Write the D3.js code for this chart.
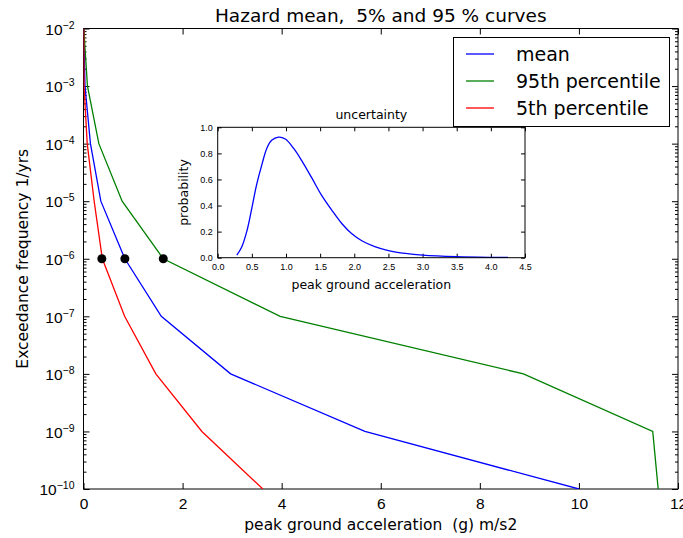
<!DOCTYPE html>
<html>
<head>
<meta charset="utf-8">
<script src="https://cdn.jsdelivr.net/npm/d3@7"></script>
<style>
  body { margin: 0; background: #fff; }
  svg { font-family: "DejaVu Sans", sans-serif; }
</style>
</head>
<body>
<div id="chart"></div>
<script>
// hazard curves: exceedance frequency per decade and the pga reaching it
const freq = [1e-2, 1e-3, 1e-4, 1e-5, 1e-6, 1e-7, 1e-8, 1e-9, 1e-10];
const meanPga = [0.005, 0.03, 0.14, 0.35, 0.835, 1.57, 2.97, 5.68, 10.0];
const p95Pga = [0.005, 0.08, 0.31, 0.78, 1.61, 3.97, 8.88, 11.49, 11.6];
const p5Pga = [0.005, 0.01, 0.075, 0.215, 0.38, 0.83, 1.46, 2.39, 3.62];

// 1e-6 intercepts
const markPga = [0.37, 0.835, 1.61];
const markFreq = 1e-6;

// inset: uncertainty density
const pdfX = [0.28, 0.35, 0.43, 0.50, 0.57, 0.65, 0.72, 0.79, 0.89, 0.99, 1.11, 1.23, 1.38, 1.52, 1.67, 1.82, 1.96, 2.11, 2.30, 2.50, 2.75, 3.00, 3.50, 4.00, 4.25];
const pdfY = [0.02, 0.08, 0.21, 0.38, 0.56, 0.72, 0.84, 0.90, 0.925, 0.91, 0.84, 0.745, 0.61, 0.48, 0.365, 0.26, 0.185, 0.13, 0.085, 0.055, 0.033, 0.02, 0.008, 0.003, 0.002];

const xTicks = [0, 2, 4, 6, 8, 10, 12];
const yTicks = [1e-10, 1e-9, 1e-8, 1e-7, 1e-6, 1e-5, 1e-4, 1e-3, 1e-2];
const insetXTicks = [0, 0.5, 1, 1.5, 2, 2.5, 3, 3.5, 4, 4.5];
const insetYTicks = [0, 0.2, 0.4, 0.6, 0.8, 1.0];

const series = [
  { name: 'mean', color: '#0000ff', pga: meanPga },
  { name: '95th percentile', color: '#008000', pga: p95Pga },
  { name: '5th percentile', color: '#ff0000', pga: p5Pga },
];

const W = 683, H = 538;
const box = { left: 83.5, right: 678, top: 28.5, bottom: 489 };

const svg = d3.select('#chart').append('svg')
  .attr('width', W).attr('height', H);

const x = d3.scaleLinear().domain([0, 12]).range([box.left, box.right]);
const y = d3.scaleLog().domain([1e-10, 1e-2]).range([box.bottom, box.top]);

svg.append('defs').append('clipPath').attr('id', 'clip')
  .append('rect')
  .attr('x', box.left).attr('y', box.top)
  .attr('width', box.right - box.left).attr('height', box.bottom - box.top);

// minor log ticks 2..9 in each decade
const minor = [];
yTicks.slice(0, -1).forEach(d => { for (let k = 2; k < 10; k++) minor.push(d * k); });

function styleAxis(g, size) {
  g.select('.domain').remove();
  g.selectAll('line').attr('stroke', '#000');
  g.selectAll('text').attr('fill', '#000').style('font-size', size);
}

svg.append('g')
  .attr('transform', `translate(0,${box.bottom})`)
  .call(d3.axisBottom(x).tickValues(xTicks).tickSizeInner(-6).tickSizeOuter(0).tickPadding(9).tickFormat(d3.format('d')))
  .call(g => styleAxis(g, '15.5px'));

svg.append('g')
  .attr('transform', `translate(0,${box.top})`)
  .call(d3.axisTop(x).tickValues(xTicks).tickSizeInner(-6).tickSizeOuter(0).tickFormat(''))
  .call(g => styleAxis(g, '0px'));

svg.append('g')
  .attr('transform', `translate(${box.left},0)`)
  .call(d3.axisLeft(y).tickValues(minor).tickSizeInner(-3).tickSizeOuter(0).tickFormat(''))
  .call(g => styleAxis(g, '0px'));

svg.append('g')
  .attr('transform', `translate(${box.right},0)`)
  .call(d3.axisRight(y).tickValues(minor).tickSizeInner(-3).tickSizeOuter(0).tickFormat(''))
  .call(g => styleAxis(g, '0px'));

svg.append('g')
  .attr('transform', `translate(${box.right},0)`)
  .call(d3.axisRight(y).tickValues(yTicks).tickSizeInner(-6).tickSizeOuter(0).tickFormat(''))
  .call(g => styleAxis(g, '0px'));

const yAxis = svg.append('g')
  .attr('transform', `translate(${box.left},0)`)
  .call(d3.axisLeft(y).tickValues(yTicks).tickSizeInner(-6).tickSizeOuter(0).tickPadding(9))
  .call(g => styleAxis(g, '15.5px'));

yAxis.selectAll('.tick text').each(function (d) {
  const t = d3.select(this).text('').attr('dy', '0.37em');
  t.append('tspan').text('10');
  t.append('tspan').attr('dy', -6).style('font-size', '10.5px')
    .text('\u2212' + Math.round(-Math.log10(d)));
});

svg.append('rect')
  .attr('x', box.left).attr('y', box.top)
  .attr('width', box.right - box.left).attr('height', box.bottom - box.top)
  .attr('fill', 'none').attr('stroke', '#000').attr('stroke-width', 1);

const line = d3.line()
  .x(d => x(d.x))
  .y(d => y(d.y));

svg.append('g').attr('clip-path', 'url(#clip)')
  .selectAll('path')
  .data(series)
  .join('path')
  .attr('d', s => line(s.pga.map((p, i) => ({ x: p, y: freq[i] }))))
  .attr('fill', 'none')
  .attr('stroke', s => s.color)
  .attr('stroke-width', 1.3);

svg.append('g')
  .selectAll('circle')
  .data(markPga)
  .join('circle')
  .attr('cx', d => x(d))
  .attr('cy', y(markFreq))
  .attr('r', 4.5)
  .attr('fill', '#000');

svg.append('text')
  .attr('x', (box.left + box.right) / 2).attr('y', 22)
  .attr('text-anchor', 'middle').style('font-size', '18.5px')
  .style('white-space', 'pre')
  .text('Hazard mean,  5% and 95 % curves');

svg.append('text')
  .attr('x', (box.left + box.right) / 2).attr('y', 530)
  .attr('text-anchor', 'middle').style('font-size', '15.5px')
  .style('white-space', 'pre')
  .text('peak ground acceleration  (g) m/s2');

svg.append('text')
  .attr('transform', `translate(28,${(box.top + box.bottom) / 2}) rotate(-90)`)
  .attr('text-anchor', 'middle').style('font-size', '15.5px')
  .text('Exceedance frequency 1/yrs');

// legend
const legend = svg.append('g');
legend.append('rect')
  .attr('x', 453.5).attr('y', 37.5).attr('width', 216).attr('height', 89)
  .attr('fill', '#fff').attr('stroke', '#000').attr('stroke-width', 1);

series.forEach((s, i) => {
  const ly = 54 + i * 27;
  legend.append('line')
    .attr('x1', 466).attr('x2', 494).attr('y1', ly).attr('y2', ly)
    .attr('stroke', s.color).attr('stroke-width', 1.3);
  legend.append('text')
    .attr('x', 516).attr('y', ly + 6.5)
    .style('font-size', '19px')
    .text(s.name);
});

// inset
const ibox = { left: 217.7, right: 525, top: 127.3, bottom: 257.7 };
const ix = d3.scaleLinear().domain([0, 4.5]).range([ibox.left, ibox.right]);
const iy = d3.scaleLinear().domain([0, 1]).range([ibox.bottom, ibox.top]);

const inset = svg.append('g');
inset.append('rect')
  .attr('x', ibox.left).attr('y', ibox.top)
  .attr('width', ibox.right - ibox.left).attr('height', ibox.bottom - ibox.top)
  .attr('fill', '#fff');

inset.append('g')
  .attr('transform', `translate(0,${ibox.bottom})`)
  .call(d3.axisBottom(ix).tickValues(insetXTicks).tickSizeInner(-4).tickSizeOuter(0).tickPadding(6).tickFormat(d3.format('.1f')))
  .call(g => styleAxis(g, '9px'));

inset.append('g')
  .attr('transform', `translate(0,${ibox.top})`)
  .call(d3.axisTop(ix).tickValues(insetXTicks).tickSizeInner(-4).tickSizeOuter(0).tickFormat(''))
  .call(g => styleAxis(g, '0px'));

inset.append('g')
  .attr('transform', `translate(${ibox.left},0)`)
  .call(d3.axisLeft(iy).tickValues(insetYTicks).tickSizeInner(-4).tickSizeOuter(0).tickPadding(5).tickFormat(d3.format('.1f')))
  .call(g => styleAxis(g, '9px'));

inset.append('g')
  .attr('transform', `translate(${ibox.right},0)`)
  .call(d3.axisRight(iy).tickValues(insetYTicks).tickSizeInner(-4).tickSizeOuter(0).tickFormat(''))
  .call(g => styleAxis(g, '0px'));

inset.append('path')
  .datum(pdfX.map((v, i) => ({ x: v, y: pdfY[i] })))
  .attr('d', d3.line().x(d => ix(d.x)).y(d => iy(d.y)).curve(d3.curveCatmullRom))
  .attr('fill', 'none')
  .attr('stroke', '#0000ff')
  .attr('stroke-width', 1.3);

inset.append('rect')
  .attr('x', ibox.left).attr('y', ibox.top)
  .attr('width', ibox.right - ibox.left).attr('height', ibox.bottom - ibox.top)
  .attr('fill', 'none').attr('stroke', '#000').attr('stroke-width', 1);

inset.append('text')
  .attr('x', (ibox.left + ibox.right) / 2).attr('y', 118.5)
  .attr('text-anchor', 'middle').style('font-size', '12.5px')
  .text('uncertainty');

inset.append('text')
  .attr('x', (ibox.left + ibox.right) / 2).attr('y', 289)
  .attr('text-anchor', 'middle').style('font-size', '12.5px')
  .text('peak ground acceleration');

inset.append('text')
  .attr('transform', `translate(188,${(ibox.top + ibox.bottom) / 2}) rotate(-90)`)
  .attr('text-anchor', 'middle').style('font-size', '12.5px')
  .text('probability');
</script>
</body>
</html>
